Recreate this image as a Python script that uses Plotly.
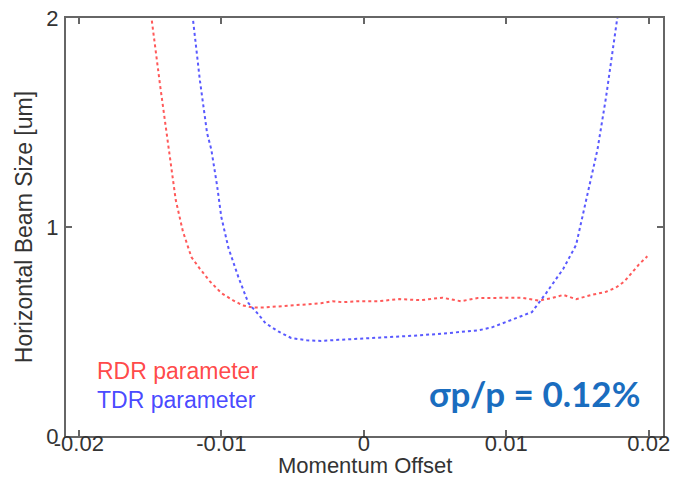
import plotly.graph_objects as go

rdr_x = [-0.0152, -0.0149, -0.0143, -0.0137, -0.0132, -0.0127, -0.0121, -0.0115, -0.0108, -0.0100,
         -0.0092, -0.0085, -0.0078, -0.0070, -0.0060, -0.0050, -0.0040, -0.0030, -0.0022, -0.0015,
         -0.0005, 0.0010, 0.0025, 0.0040, 0.0055, 0.0068, 0.0080, 0.0095, 0.0110, 0.0123,
         0.0132, 0.0140, 0.0149, 0.0160, 0.0170, 0.0177, 0.0183, 0.0188, 0.0193, 0.0199]
rdr_y = [2.10, 2.00, 1.68, 1.37, 1.13, 0.98, 0.856, 0.80, 0.74, 0.684,
         0.65, 0.625, 0.615, 0.615, 0.62, 0.625, 0.63, 0.635, 0.645, 0.64,
         0.645, 0.645, 0.655, 0.650, 0.662, 0.645, 0.660, 0.660, 0.662, 0.648,
         0.660, 0.675, 0.655, 0.675, 0.690, 0.71, 0.74, 0.78, 0.82, 0.86]

tdr_x = [-0.0122, -0.0120, -0.0115, -0.0110, -0.0107, -0.0103, -0.0100, -0.0095, -0.0088, -0.0081,
         -0.0075, -0.0069, -0.0060, -0.0051, -0.0040, -0.0030, -0.0018, -0.0005, 0.0010, 0.0025,
         0.0040, 0.0055, 0.0070, 0.0080, 0.0090, 0.0100, 0.0110, 0.0118, 0.0128, 0.0140,
         0.0149, 0.0156, 0.0160, 0.0164, 0.0170, 0.0175, 0.0178, 0.0180]
tdr_y = [2.10, 2.00, 1.70, 1.45, 1.37, 1.20, 1.048, 0.90, 0.76, 0.636,
         0.59, 0.54, 0.50, 0.469, 0.458, 0.455, 0.46, 0.465, 0.468, 0.475,
         0.482, 0.49, 0.50, 0.505, 0.52, 0.545, 0.570, 0.593, 0.684, 0.80,
         0.914, 1.13, 1.25, 1.37, 1.62, 1.85, 2.00, 2.10]

x_ticks = [-0.02, -0.01, 0, 0.01, 0.02]
x_tick_labels = ["-0.02", "-0.01", "0", "0.01", "0.02"]
y_ticks = [0, 1, 2]
y_tick_labels = ["0", "1", "2"]

fig = go.Figure()
fig.add_trace(go.Scatter(x=rdr_x, y=rdr_y, mode="lines", name="RDR parameter",
                         line=dict(color="rgba(255,60,60,0.85)", width=2, dash="dot")))
fig.add_trace(go.Scatter(x=tdr_x, y=tdr_y, mode="lines", name="TDR parameter",
                         line=dict(color="rgba(60,60,255,0.85)", width=2, dash="dot")))

font_main = "Liberation Sans, Arial, sans-serif"
axis_common = dict(showline=True, linecolor="#666666", linewidth=2, mirror="ticks",
                   ticks="inside", ticklen=6, tickcolor="#666666", tickwidth=1.5,
                   showgrid=False, zeroline=False, automargin=False,
                   tickfont=dict(family=font_main, size=22, color="#333333"))

fig.update_xaxes(range=[-0.0209, 0.0210], tickvals=x_ticks, ticktext=x_tick_labels,
                 ticklabelstandoff=-13, **axis_common)
fig.update_yaxes(range=[0, 2], tickvals=y_ticks, ticktext=y_tick_labels,
                 ticklabelstandoff=1, **axis_common)

# axis titles
fig.add_annotation(x=0.5, y=-0.071, xref="paper", yref="paper", xanchor="center", yanchor="middle",
                   text="Momentum Offset", showarrow=False,
                   font=dict(family=font_main, size=22, color="#333333"))
fig.add_annotation(x=-0.070, y=0.5, xref="paper", yref="paper", xanchor="center", yanchor="middle",
                   text="Horizontal Beam Size [um]", showarrow=False, textangle=-90,
                   font=dict(family=font_main, size=23, color="#333333"))

fig.add_annotation(x=0.048, y=0.156, xref="paper", yref="paper", xanchor="left", yanchor="middle",
                   text="RDR parameter", showarrow=False,
                   font=dict(family=font_main, size=23, color="rgba(255,50,50,0.9)"))
fig.add_annotation(x=0.048, y=0.086, xref="paper", yref="paper", xanchor="left", yanchor="middle",
                   text="TDR parameter", showarrow=False,
                   font=dict(family=font_main, size=23, color="rgba(50,50,255,0.9)"))
fig.add_annotation(x=0.965, y=0.103, xref="paper", yref="paper", xanchor="right", yanchor="middle",
                   text="<b>σp/p = 0.12%</b>", showarrow=False,
                   font=dict(family="Lato, Noto Sans, sans-serif", size=35, color="#1a6dbf"))

fig.update_layout(width=675, height=478, showlegend=False,
                  paper_bgcolor="white", plot_bgcolor="white",
                  margin=dict(l=66, r=12, t=18, b=42))

fig.write_html("out.html", config={"displayModeBar": False},
               post_script="document.body.style.margin='0';document.body.style.overflow='hidden';")
